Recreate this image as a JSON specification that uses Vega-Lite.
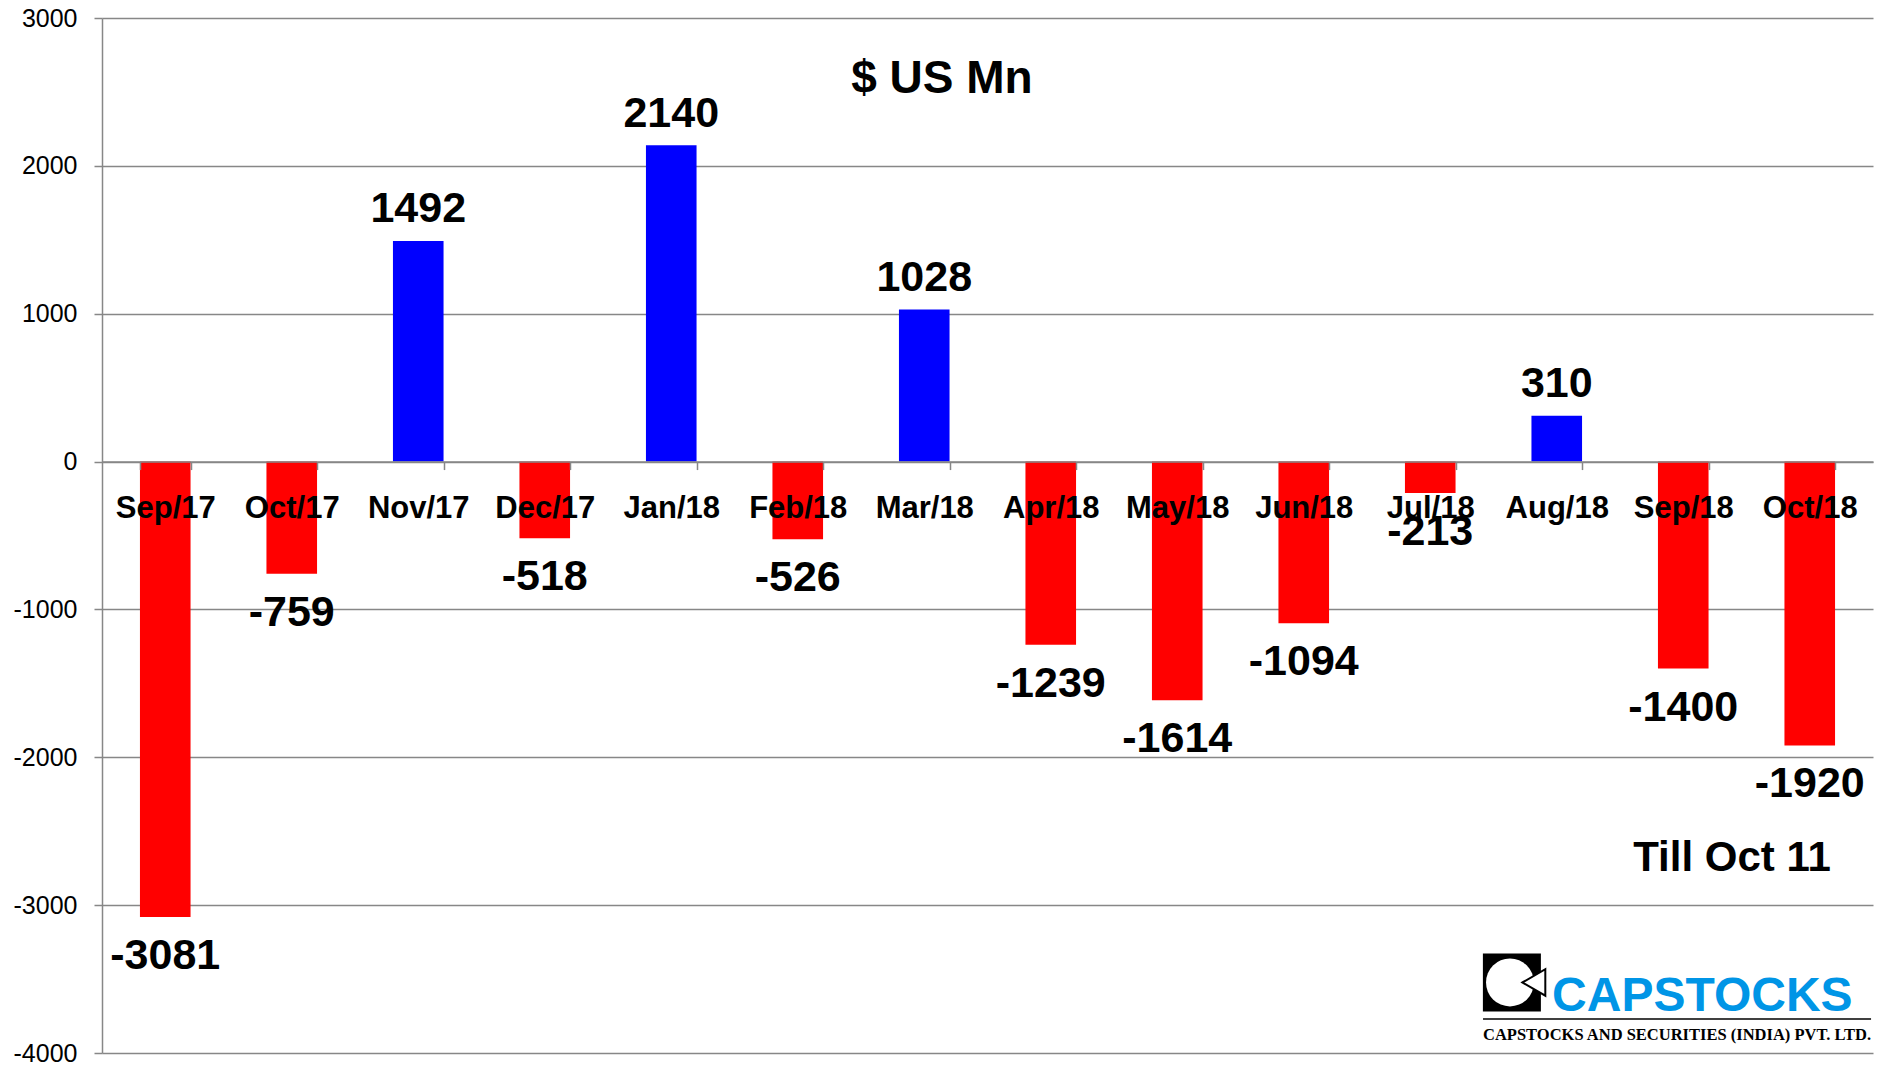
{
  "$schema": "https://vega.github.io/schema/vega-lite/v6.json",
  "autosize": {"type": "none"},
  "width": 1771,
  "height": 1035,
  "padding": {"left": 102, "top": 18, "right": 10, "bottom": 13},
  "background": "white",
  "config": {
    "view": {"stroke": null},
    "font": "Liberation Sans"
  },
  "datasets": {
    "flows": [
      {"month": "Sep/17", "value": -3081},
      {"month": "Oct/17", "value": -759},
      {"month": "Nov/17", "value": 1492},
      {"month": "Dec/17", "value": -518},
      {"month": "Jan/18", "value": 2140},
      {"month": "Feb/18", "value": -526},
      {"month": "Mar/18", "value": 1028},
      {"month": "Apr/18", "value": -1239},
      {"month": "May/18", "value": -1614},
      {"month": "Jun/18", "value": -1094},
      {"month": "Jul/18", "value": -213},
      {"month": "Aug/18", "value": 310},
      {"month": "Sep/18", "value": -1400},
      {"month": "Oct/18", "value": -1920}
    ]
  },
  "layer": [
    {
      "data": {"name": "flows"},
      "encoding": {
        "x": {
          "field": "month",
          "type": "nominal",
          "sort": null,
          "scale": {"paddingInner": 0.6, "paddingOuter": 0.3},
          "axis": {
            "title": null,
            "offset": -591.43,
            "zindex": 1,
            "grid": false,
            "domainColor": "#878787",
            "domainWidth": 1.5,
            "tickBand": "extent",
            "tickColor": "#878787",
            "tickWidth": 1.5,
            "tickSize": 8,
            "labelAngle": 0,
            "labelFontSize": 31,
            "labelFontWeight": "bold",
            "labelColor": "black",
            "labelPadding": 24
          }
        },
        "y": {
          "field": "value",
          "type": "quantitative",
          "scale": {"domain": [-4000, 3000], "nice": false, "zero": false},
          "axis": {
            "title": null,
            "values": [-4000, -3000, -2000, -1000, 0, 1000, 2000, 3000],
            "labelExpr": "'' + datum.value",
            "zindex": 0,
            "grid": true,
            "gridColor": "#878787",
            "gridWidth": 1.5,
            "domainColor": "#878787",
            "domainWidth": 1.5,
            "tickColor": "#878787",
            "tickWidth": 1.5,
            "tickSize": 8,
            "labelFontSize": 25,
            "labelColor": "black",
            "labelPadding": 17
          }
        }
      },
      "layer": [
        {
          "mark": {"type": "bar"},
          "encoding": {
            "color": {
              "condition": {"test": "datum.value >= 0", "value": "#0000FF"},
              "value": "#FF0000"
            }
          }
        },
        {
          "transform": [{"filter": "datum.value >= 0"}],
          "mark": {
            "type": "text",
            "fontSize": 43,
            "fontWeight": "bold",
            "baseline": "alphabetic",
            "align": "center",
            "dy": -18.5,
            "color": "black"
          },
          "encoding": {"text": {"field": "value", "type": "nominal"}}
        },
        {
          "transform": [{"filter": "datum.value < 0"}],
          "mark": {
            "type": "text",
            "fontSize": 43,
            "fontWeight": "bold",
            "baseline": "alphabetic",
            "align": "center",
            "dy": 52,
            "color": "black"
          },
          "encoding": {"text": {"field": "value", "type": "nominal"}}
        }
      ]
    },
    {
      "encoding": {
        "x": {
          "field": "share",
          "type": "quantitative",
          "scale": {"domain": [0, 1], "nice": false, "zero": false},
          "axis": null
        },
        "y": {
          "field": "value",
          "type": "quantitative",
          "scale": {"domain": [-4000, 3000], "nice": false, "zero": false},
          "axis": {
            "title": null,
            "values": [-4000, -3000, -2000, -1000, 0, 1000, 2000, 3000],
            "labelExpr": "'' + datum.value",
            "zindex": 0,
            "grid": true,
            "gridColor": "#878787",
            "gridWidth": 1.5,
            "domainColor": "#878787",
            "domainWidth": 1.5,
            "tickColor": "#878787",
            "tickWidth": 1.5,
            "tickSize": 8,
            "labelFontSize": 25,
            "labelColor": "black",
            "labelPadding": 17
          }
        }
      },
      "layer": [
        {
          "data": {"values": [
            {"label": "$ US Mn", "share": 0.4743, "value": 2495}
          ]},
          "mark": {"type": "text", "fontSize": 46, "fontWeight": "bold", "align": "center", "baseline": "alphabetic", "color": "black"},
          "encoding": {"text": {"field": "label", "type": "nominal"}}
        },
        {
          "data": {"values": [
            {"label": "Till Oct 11", "share": 0.9204, "value": -2772}
          ]},
          "mark": {"type": "text", "fontSize": 42, "fontWeight": "bold", "align": "center", "baseline": "alphabetic", "color": "black"},
          "encoding": {"text": {"field": "label", "type": "nominal"}}
        },
        {
          "data": {"values": [{"share": 0.7961, "value": -3523}]},
          "mark": {"type": "point", "shape": "square", "filled": true, "color": "black", "size": 3364, "opacity": 1}
        },
        {
          "data": {"values": [{"share": 0.7950, "value": -3523}]},
          "mark": {"type": "point", "shape": "circle", "filled": true, "color": "white", "size": 2290, "opacity": 1}
        },
        {
          "data": {"values": [{"share": 0.8085, "value": -3523}]},
          "mark": {"type": "point", "shape": "triangle-left", "filled": true, "fill": "white", "stroke": "black", "strokeWidth": 2, "size": 700, "opacity": 1}
        },
        {
          "data": {"values": [
            {"label": "CAPSTOCKS", "share": 0.8188, "value": -3716}
          ]},
          "mark": {"type": "text", "font": "Liberation Sans", "fontSize": 48, "fontWeight": "bold", "align": "left", "baseline": "alphabetic", "color": "#0095E6"},
          "encoding": {"text": {"field": "label", "type": "nominal"}}
        },
        {
          "data": {"values": [{"share": 0.7798, "share_end": 0.9989, "value": -3770}]},
          "mark": {"type": "rule", "color": "black", "strokeWidth": 1.5},
          "encoding": {"x2": {"field": "share_end"}}
        },
        {
          "data": {"values": [
            {"label": "CAPSTOCKS AND SECURITIES (INDIA) PVT. LTD.", "share": 0.7798, "value": -3912}
          ]},
          "mark": {"type": "text", "font": "Liberation Serif", "fontSize": 16.5, "fontWeight": "bold", "align": "left", "baseline": "alphabetic", "color": "black"},
          "encoding": {"text": {"field": "label", "type": "nominal"}}
        }
      ]
    }
  ],
  "resolve": {"scale": {"x": "independent"}}
}
